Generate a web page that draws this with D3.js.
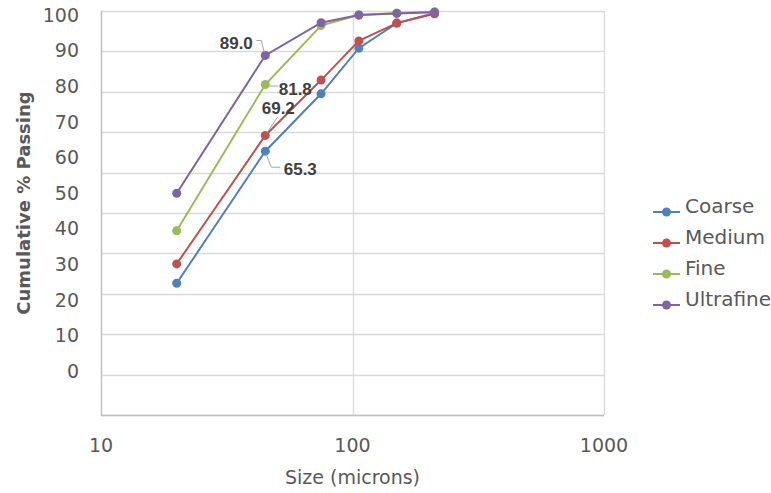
<!DOCTYPE html>
<html>
<head>
<meta charset="utf-8">
<script src="https://cdn.jsdelivr.net/npm/d3@7"></script>
<style>
  body { margin: 0; background: #fff; }
  text { font-family: "DejaVu Sans", sans-serif; fill: #595959; }
</style>
</head>
<body>
<div id="chart"></div>
<script>
// data
var sizes = [20, 45, 75, 106, 150, 212];
var coarse = [32.6, 65.3, 79.5, 90.8, 97.0, 99.5];
var medium = [37.4, 69.2, 82.9, 92.6, 97.0, 99.3];
var fine = [45.6, 81.8, 96.4, 99.0, 99.5, 99.8];
var ultrafine = [54.9, 89.0, 97.1, 99.0, 99.4, 99.7];
var seriesNames = ["Coarse", "Medium", "Fine", "Ultrafine"];
var yTicks = [0, 10, 20, 30, 40, 50, 60, 70, 80, 90, 100];
var xTicks = [10, 100, 1000];
var labelIndex = 1; // the 45 micron point carries a data label

var colors = ["#4F81BD", "#C0504D", "#9BBB59", "#8064A2"];
var allValues = [coarse, medium, fine, ultrafine];

var width = 771, height = 493;
var plot = {left: 101, right: 604, top: 11, bottom: 415};

var svg = d3.select("#chart").append("svg")
    .attr("width", width)
    .attr("height", height);

var x = d3.scaleLog().domain([10, 1000]).range([plot.left, plot.right]);
var y = d3.scaleLinear().domain([0, 100]).range([plot.bottom, plot.top]);
// the tick labels in the original sit on their own, evenly squeezed spacing
var yLab = d3.scaleLinear().domain([0, 100]).range([371, 15]);

// gridlines
svg.append("g")
    .selectAll("line")
    .data(yTicks)
    .enter().append("line")
    .attr("x1", plot.left).attr("x2", plot.right)
    .attr("y1", function (d) { return Math.round(y(d)) + 0.5; })
    .attr("y2", function (d) { return Math.round(y(d)) + 0.5; })
    .attr("stroke", "#d9d9d9").attr("stroke-width", 1.3);

svg.append("g")
    .selectAll("line")
    .data(xTicks)
    .enter().append("line")
    .attr("x1", function (d) { return Math.round(x(d)) + 0.5; })
    .attr("x2", function (d) { return Math.round(x(d)) + 0.5; })
    .attr("y1", plot.top).attr("y2", plot.bottom)
    .attr("stroke", "#d9d9d9").attr("stroke-width", 1.3);

// axis lines
svg.append("line")
    .attr("x1", plot.left + 0.5).attr("x2", plot.left + 0.5)
    .attr("y1", plot.top).attr("y2", plot.bottom + 0.5)
    .attr("stroke", "#bfbfbf").attr("stroke-width", 1.3);
svg.append("line")
    .attr("x1", plot.left).attr("x2", plot.right)
    .attr("y1", plot.bottom + 0.5).attr("y2", plot.bottom + 0.5)
    .attr("stroke", "#bfbfbf").attr("stroke-width", 1.3);

// y tick labels
svg.append("g")
    .selectAll("text")
    .data(yTicks)
    .enter().append("text")
    .attr("x", 79)
    .attr("y", function (d) { return yLab(d); })
    .attr("dy", "0.36em")
    .attr("text-anchor", "end")
    .style("font-size", "19px")
    .text(function (d) { return d; });

// x tick labels
svg.append("g")
    .selectAll("text")
    .data(xTicks)
    .enter().append("text")
    .attr("x", function (d) { return x(d); })
    .attr("y", 452)
    .attr("text-anchor", "middle")
    .style("font-size", "19px")
    .text(function (d) { return d; });

// axis titles
svg.append("text")
    .attr("x", plot.left + (plot.right - plot.left) / 2)
    .attr("y", 484)
    .attr("text-anchor", "middle")
    .style("font-size", "19px")
    .text("Size (microns)");

svg.append("text")
    .attr("transform", "translate(30,203) rotate(-90)")
    .attr("text-anchor", "middle")
    .style("font-size", "18px")
    .style("font-weight", "bold")
    .text("Cumulative % Passing");

// series
var line = d3.line()
    .x(function (d) { return x(d.size); })
    .y(function (d) { return y(d.value); });

var series = seriesNames.map(function (name, i) {
    return {
        name: name,
        color: colors[i],
        points: sizes.map(function (s, j) { return {size: s, value: allValues[i][j]}; })
    };
});

var g = svg.append("g")
    .selectAll("g")
    .data(series)
    .enter().append("g");

g.append("path")
    .attr("d", function (d) { return line(d.points); })
    .attr("fill", "none")
    .attr("stroke", function (d) { return d.color; })
    .attr("stroke-width", 2);

g.selectAll("circle")
    .data(function (d) { return d.points.map(function (p) { return {p: p, color: d.color}; }); })
    .enter().append("circle")
    .attr("cx", function (d) { return x(d.p.size); })
    .attr("cy", function (d) { return y(d.p.value); })
    .attr("r", 4.5)
    .attr("fill", function (d) { return d.color; });

// data labels with leader lines (offsets from the point, in px)
var labelStyle = [
    {dx: 35, dy: 18, leader: [[1, 3], [6, 16], [15, 16]]},
    {dx: 13, dy: -28, leader: [[12, -18], [2, -3]]},
    {dx: 30, dy: 4, leader: [[3, 1.5], [13, 1.5]]},
    {dx: -29, dy: -13, leader: [[-9, -15], [-4, -15], [-1, -3]]}
];

var labels = svg.append("g");
series.forEach(function (s, i) {
    var p = s.points[labelIndex];
    var px = x(p.size), py = y(p.value);
    var st = labelStyle[i];
    labels.append("path")
        .attr("d", d3.line()(st.leader.map(function (o) { return [px + o[0], py + o[1]]; })))
        .attr("fill", "none")
        .attr("stroke", "#a6a6a6")
        .attr("stroke-width", 1);
    labels.append("text")
        .attr("x", px + st.dx)
        .attr("y", py + st.dy)
        .attr("dy", "0.36em")
        .attr("text-anchor", "middle")
        .style("font-family", "'Liberation Sans', Arial, sans-serif")
        .style("font-size", "17px")
        .style("font-weight", "bold")
        .style("fill", "#404040")
        .text(p.value.toFixed(1));
});

// legend
var legend = svg.append("g")
    .selectAll("g")
    .data(series)
    .enter().append("g")
    .attr("transform", function (d, i) { return "translate(653," + (212 + i * 31) + ")"; });

legend.append("line")
    .attr("x1", 0).attr("x2", 27)
    .attr("stroke", function (d) { return d.color; })
    .attr("stroke-width", 2);

legend.append("circle")
    .attr("cx", 13.5)
    .attr("r", 4.5)
    .attr("fill", function (d) { return d.color; });

legend.append("text")
    .attr("x", 32)
    .attr("y", 1)
    .style("font-size", "20px")
    .text(function (d) { return d.name; });
</script>
</body>
</html>
